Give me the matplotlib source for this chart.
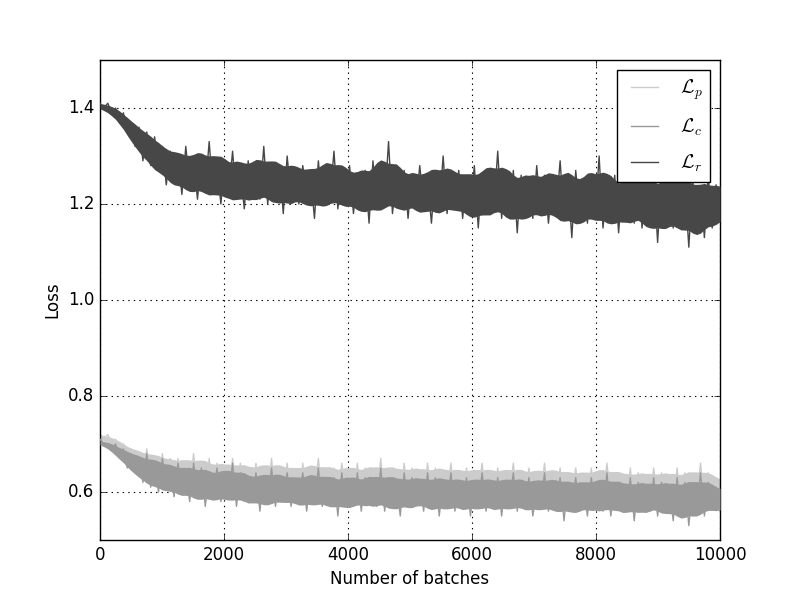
import matplotlib
matplotlib.use('Agg')
import matplotlib.pyplot as plt
import numpy as np

# loss values (one sample every ~63 batches)
loss_p = [0.72, 0.71, 0.72, 0.70, 0.71, 0.69, 0.70, 0.67, 0.69, 0.65,
          0.68, 0.64, 0.69, 0.63, 0.67, 0.62, 0.68, 0.61, 0.67, 0.62,
          0.67, 0.61, 0.66, 0.60, 0.68, 0.61, 0.66, 0.59, 0.67, 0.60,
          0.66, 0.60, 0.65, 0.59, 0.67, 0.60, 0.66, 0.58, 0.65, 0.60,
          0.66, 0.59, 0.65, 0.60, 0.67, 0.58, 0.65, 0.60, 0.66, 0.59,
          0.64, 0.59, 0.66, 0.58, 0.65, 0.60, 0.67, 0.59, 0.64, 0.60,
          0.65, 0.58, 0.66, 0.60, 0.64, 0.59, 0.66, 0.58, 0.65, 0.60,
          0.64, 0.59, 0.67, 0.58, 0.65, 0.60, 0.64, 0.58, 0.66, 0.59,
          0.65, 0.60, 0.64, 0.58, 0.66, 0.59, 0.65, 0.58, 0.64, 0.60,
          0.66, 0.58, 0.64, 0.59, 0.65, 0.58, 0.64, 0.60, 0.66, 0.58,
          0.64, 0.59, 0.65, 0.58, 0.64, 0.60, 0.66, 0.58, 0.64, 0.59,
          0.65, 0.58, 0.63, 0.59, 0.66, 0.58, 0.64, 0.59, 0.65, 0.57,
          0.64, 0.59, 0.65, 0.58, 0.63, 0.58, 0.65, 0.59, 0.64, 0.58,
          0.66, 0.58, 0.64, 0.59, 0.63, 0.58, 0.65, 0.57, 0.64, 0.59,
          0.63, 0.58, 0.65, 0.58, 0.64, 0.59, 0.63, 0.57, 0.65, 0.58,
          0.64, 0.56, 0.63, 0.58, 0.66, 0.58, 0.64, 0.59, 0.63, 0.58]

loss_c = [0.71, 0.70, 0.70, 0.69, 0.70, 0.67, 0.69, 0.65, 0.68, 0.64,
          0.67, 0.62, 0.68, 0.61, 0.66, 0.60, 0.67, 0.61, 0.65, 0.59,
          0.66, 0.60, 0.64, 0.58, 0.66, 0.60, 0.65, 0.57, 0.64, 0.59,
          0.65, 0.58, 0.63, 0.59, 0.66, 0.57, 0.64, 0.59, 0.63, 0.58,
          0.64, 0.56, 0.63, 0.58, 0.65, 0.57, 0.63, 0.59, 0.64, 0.57,
          0.62, 0.58, 0.64, 0.56, 0.63, 0.58, 0.65, 0.57, 0.62, 0.58,
          0.63, 0.55, 0.64, 0.58, 0.62, 0.57, 0.64, 0.56, 0.63, 0.58,
          0.62, 0.57, 0.65, 0.56, 0.63, 0.58, 0.62, 0.55, 0.64, 0.57,
          0.63, 0.58, 0.62, 0.56, 0.64, 0.57, 0.63, 0.55, 0.62, 0.58,
          0.64, 0.56, 0.62, 0.57, 0.63, 0.55, 0.62, 0.58, 0.64, 0.56,
          0.62, 0.57, 0.63, 0.55, 0.62, 0.58, 0.64, 0.56, 0.62, 0.57,
          0.63, 0.55, 0.61, 0.57, 0.64, 0.56, 0.62, 0.57, 0.63, 0.54,
          0.62, 0.57, 0.63, 0.56, 0.61, 0.55, 0.63, 0.57, 0.62, 0.56,
          0.64, 0.55, 0.62, 0.57, 0.61, 0.56, 0.63, 0.54, 0.62, 0.57,
          0.61, 0.56, 0.63, 0.55, 0.62, 0.57, 0.61, 0.54, 0.63, 0.56,
          0.62, 0.53, 0.61, 0.56, 0.64, 0.55, 0.62, 0.57, 0.61, 0.56]

loss_r = [1.41, 1.40, 1.41, 1.39, 1.40, 1.37, 1.39, 1.35, 1.37, 1.32,
          1.36, 1.29, 1.35, 1.28, 1.34, 1.27, 1.32, 1.24, 1.31, 1.25,
          1.30, 1.22, 1.32, 1.24, 1.29, 1.21, 1.30, 1.23, 1.33, 1.22,
          1.28, 1.20, 1.29, 1.22, 1.31, 1.21, 1.27, 1.19, 1.29, 1.22,
          1.28, 1.21, 1.32, 1.20, 1.27, 1.22, 1.28, 1.18, 1.30, 1.21,
          1.27, 1.20, 1.28, 1.22, 1.26, 1.17, 1.29, 1.20, 1.27, 1.21,
          1.31, 1.19, 1.26, 1.20, 1.28, 1.18, 1.26, 1.21, 1.27, 1.16,
          1.29, 1.19, 1.26, 1.20, 1.33, 1.18, 1.25, 1.21, 1.27, 1.17,
          1.26, 1.19, 1.28, 1.20, 1.25, 1.16, 1.27, 1.19, 1.30, 1.18,
          1.26, 1.20, 1.27, 1.17, 1.25, 1.19, 1.28, 1.15, 1.26, 1.18,
          1.27, 1.19, 1.31, 1.17, 1.25, 1.18, 1.27, 1.14, 1.26, 1.19,
          1.25, 1.17, 1.28, 1.18, 1.26, 1.16, 1.24, 1.19, 1.29, 1.17,
          1.25, 1.13, 1.27, 1.18, 1.24, 1.16, 1.26, 1.17, 1.30, 1.15,
          1.24, 1.17, 1.26, 1.14, 1.25, 1.18, 1.23, 1.16, 1.27, 1.15,
          1.24, 1.17, 1.26, 1.12, 1.25, 1.16, 1.23, 1.15, 1.28, 1.17,
          1.24, 1.11, 1.25, 1.16, 1.23, 1.13, 1.26, 1.15, 1.24, 1.17]

labels = [r'$\mathcal{L}_p$', r'$\mathcal{L}_c$', r'$\mathcal{L}_r$']
colors = ['0.8', '0.6', '0.28']


def smooth(a, w):
    pad = np.pad(np.asarray(a, dtype=float), w // 2, mode='edge')
    return np.convolve(pad, np.ones(w) / w, mode='valid')


def band(y, w=7, k=0.85):
    # dense part of the noisy curve: running mean widened towards the
    # averaged local peaks / troughs, so the larger excursions stick out
    y = np.asarray(y)
    pad = np.pad(y, 1, mode='edge')
    peaks = smooth(np.maximum.reduce([pad[:-2], pad[1:-1], pad[2:]]), w)
    troughs = smooth(np.minimum.reduce([pad[:-2], pad[1:-1], pad[2:]]), w)
    mid = smooth(y, w)
    return mid + k * (troughs - mid), mid + k * (peaks - mid)


if __name__ == '__main__':
    plt.style.use('classic')
    batches = np.linspace(0, 10000, len(loss_r))

    fig, ax = plt.subplots(figsize=(8, 6), dpi=100)
    fig.patch.set_facecolor('white')
    z = 2
    for y, lab, col in zip([loss_p, loss_c, loss_r], labels, colors):
        lo, hi = band(y)
        ax.fill_between(batches, lo, hi, color=col, lw=0, zorder=z)
        ax.plot(batches, y, color=col, lw=1.0, label=lab, zorder=z + 0.5)
        z += 1

    ax.set_xlim(0, 10000)
    ax.set_ylim(0.5, 1.5)
    ax.set_xticks(np.arange(0, 10001, 2000))
    ax.set_yticks([0.6, 0.8, 1.0, 1.2, 1.4])
    ax.grid(True, color='k', linestyle=':', linewidth=0.8)
    ax.set_axisbelow(True)
    ax.set_xlabel('Number of batches')
    ax.set_ylabel('Loss')
    leg = ax.legend(loc='upper right', fontsize=14, labelspacing=0.75, handlelength=2.0)
    leg.set_zorder(10)
    fig.savefig('out.png', dpi=100, facecolor='white')
